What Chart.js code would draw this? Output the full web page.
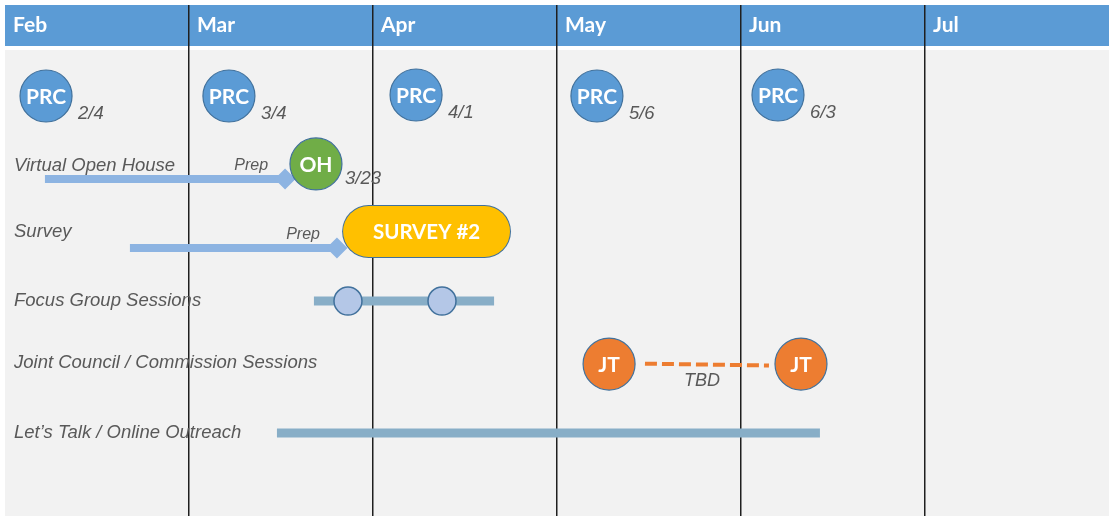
<!DOCTYPE html>
<html>
<head>
<meta charset="utf-8">
<script src="https://cdn.jsdelivr.net/npm/chart.js@4/dist/chart.umd.min.js"></script>
<style>
  html, body { margin: 0; padding: 0; background: #fff; }
  #wrap { width: 1109px; height: 516px; }
</style>
</head>
<body>
<div id="wrap"><canvas id="c" width="1109" height="516"></canvas></div>
<script>
// ---- data (x in months from start of Feb, y in row units) ----
const months = ['Feb', 'Mar', 'Apr', 'May', 'Jun', 'Jul'];
const rowLabels = ['Virtual Open House', 'Survey', 'Focus Group Sessions', 'Joint Council / Commission Sessions', 'Let’s Talk / Online Outreach'];
const rowLabelY = [2.30, 3.243, 4.229, 5.114, 6.114];

const prcX = [0.223, 1.217, 2.234, 3.217, 4.201];
const prcY = [1.30, 1.30, 1.286, 1.30, 1.286];
const prcDates = ['2/4', '3/4', '4/1', '5/6', '6/3'];

const ohPrepX = [0.217, 1.522];
const ohPrepY = [2.486, 2.486];
const ohX = [1.690];
const ohY = [2.271];
const ohDates = ['3/23'];

const surveyPrepX = [0.679, 1.804];
const surveyPrepY = [3.471, 3.471];
const surveyX = [1.976, 2.606];
const surveyY = [3.236, 3.236];
const surveyText = 'SURVEY #2';

const focusBarX = [1.679, 2.658];
const focusBarY = [4.229, 4.229];
const focusSessionX = [1.864, 2.375];
const focusSessionY = [4.229, 4.229];

const jtX = [3.283, 4.326];
const jtY = [5.129, 5.129];
const tbdX = [3.478, 4.152];
const tbdY = [5.124, 5.15];

const outreachX = [1.478, 4.429];
const outreachY = [6.114, 6.114];

const pts = (xs, ys) => xs.map((x, i) => ({ x, y: ys[i] }));

const bgPlugin = {
  id: 'bg',
  beforeDraw(chart) {
    const { ctx, chartArea: ca, scales: { x } } = chart;
    ctx.save();
    ctx.fillStyle = '#ffffff';
    ctx.fillRect(0, 0, chart.width, chart.height);
    ctx.fillStyle = '#F2F2F2';
    ctx.fillRect(ca.left, 50, ca.right - ca.left, ca.bottom - 50);
    ctx.fillStyle = '#5B9BD5';
    ctx.fillRect(ca.left, ca.top, ca.right - ca.left, 41);
    ctx.fillStyle = '#ffffff';
    ctx.font = 'bold 21px Lato';
    ctx.textBaseline = 'middle';
    months.forEach((m, i) => {
      ctx.fillText(m, x.getPixelForValue(i) + 8, 25);
    });
    ctx.restore();
  },
  beforeDatasetsDraw(chart) {
    const { ctx, scales: { y } } = chart;
    ctx.save();
    ctx.fillStyle = '#595959';
    ctx.font = 'italic 18.5px "Liberation Sans"';
    ctx.textBaseline = 'middle';
    rowLabels.forEach((l, i) => {
      ctx.fillText(l, 14, y.getPixelForValue(rowLabelY[i]));
    });
    ctx.restore();
  },
  afterDatasetsDraw(chart) {
    const { ctx } = chart;
    const el = (ds, i) => chart.getDatasetMeta(ds).data[i];
    ctx.save();
    ctx.textBaseline = 'middle';
    // circle captions
    ctx.fillStyle = '#ffffff';
    ctx.textAlign = 'center';
    ctx.font = 'bold 21px Lato';
    prcX.forEach((_, i) => { const p = el(6, i); ctx.fillText('PRC', p.x, p.y + 1); });
    { const p = el(5, 0); ctx.fillText('OH', p.x, p.y + 1); }
    jtX.forEach((_, i) => { const p = el(7, i); ctx.fillText('JT', p.x, p.y + 1); });
    { const a = el(3, 0), b = el(3, 1); ctx.font = 'bold 20.5px Lato'; ctx.fillText(surveyText, (a.x + b.x) / 2, a.y + 1); }
    // dates
    ctx.fillStyle = '#595959';
    ctx.textAlign = 'left';
    ctx.font = 'italic 18.5px "Liberation Sans"';
    prcDates.forEach((d, i) => { const p = el(6, i); ctx.fillText(d, p.x + 32, p.y + 18); });
    { const p = el(5, 0); ctx.fillText(ohDates[0], p.x + 29, p.y + 15); }
    // TBD
    { const a = el(8, 0), b = el(8, 1); ctx.textAlign = 'center'; ctx.font = 'italic 18px "Liberation Sans"'; ctx.fillText('TBD', (a.x + b.x) / 2 - 5, (a.y + b.y) / 2 + 16); }
    // Prep labels
    ctx.textAlign = 'right';
    ctx.font = 'italic 16px "Liberation Sans"';
    { const p = el(0, 1); ctx.fillText('Prep', p.x - 17, p.y - 13); }
    { const p = el(1, 1); ctx.fillText('Prep', p.x - 17, p.y - 13); }
    ctx.restore();
  }
};

const prepColor = '#8DB4E2';
const barColor = '#88AEC7';
const circleBorder = '#41719C';

new Chart(document.getElementById('c'), {
  type: 'scatter',
  data: {
    datasets: [
      { // 0 open house prep
        data: pts(ohPrepX, ohPrepY), showLine: true, borderColor: prepColor, borderWidth: 8,
        pointRadius: [0, 10.5], pointStyle: 'rectRot', pointBackgroundColor: prepColor, pointBorderWidth: 0, order: 5
      },
      { // 1 survey prep
        data: pts(surveyPrepX, surveyPrepY), showLine: true, borderColor: prepColor, borderWidth: 8,
        pointRadius: [0, 10.5], pointStyle: 'rectRot', pointBackgroundColor: prepColor, pointBorderWidth: 0, order: 5
      },
      { // 2 survey pill border
        data: pts(surveyX, surveyY), showLine: true, borderColor: circleBorder, borderWidth: 53,
        borderCapStyle: 'round', pointRadius: 0, order: 4
      },
      { // 3 survey pill fill
        data: pts(surveyX, surveyY), showLine: true, borderColor: '#FFC000', borderWidth: 51,
        borderCapStyle: 'round', pointRadius: 0, order: 3
      },
      { // 4 focus group bar
        data: pts(focusBarX, focusBarY), showLine: true, borderColor: barColor, borderWidth: 9,
        pointRadius: 0, order: 5
      },
      { // 5 open house
        data: pts(ohX, ohY), pointRadius: 26, pointBackgroundColor: '#70AD47',
        pointBorderColor: circleBorder, pointBorderWidth: 1.2, order: 1
      },
      { // 6 PRC
        data: pts(prcX, prcY), pointRadius: 26, pointBackgroundColor: '#5B9BD5',
        pointBorderColor: circleBorder, pointBorderWidth: 1.2, order: 1
      },
      { // 7 JT
        data: pts(jtX, jtY), pointRadius: 26, pointBackgroundColor: '#ED7D31',
        pointBorderColor: circleBorder, pointBorderWidth: 1.2, order: 1
      },
      { // 8 TBD dashed
        data: pts(tbdX, tbdY), showLine: true, borderColor: '#ED7D31', borderWidth: 4,
        borderDash: [12, 5], pointRadius: 0, order: 2
      },
      { // 9 focus sessions
        data: pts(focusSessionX, focusSessionY), pointRadius: 14, pointBackgroundColor: '#B4C7E7',
        pointBorderColor: circleBorder, pointBorderWidth: 1.5, order: 1
      },
      { // 10 outreach
        data: pts(outreachX, outreachY), showLine: true, borderColor: barColor, borderWidth: 9,
        pointRadius: 0, order: 5
      }
    ]
  },
  options: {
    responsive: false,
    animation: false,
    devicePixelRatio: 1,
    layout: { autoPadding: false, padding: { left: 5, top: 5, right: 0, bottom: 0 } },
    plugins: { legend: { display: false }, tooltip: { enabled: false } },
    events: [],
    scales: {
      x: {
        type: 'linear', min: 0, max: months.length, position: 'top',
        ticks: { display: false, stepSize: 1 },
        border: { display: false },
        grid: {
          drawTicks: false, lineWidth: 1.5,
          color: c => (c.tick && c.tick.value > 0 && c.tick.value < months.length) ? '#1f1f1f' : 'rgba(0,0,0,0)'
        }
      },
      y: {
        type: 'linear', min: 0, max: 7.3, reverse: true, display: false
      }
    }
  },
  plugins: [bgPlugin]
});
</script>
</body>
</html>
